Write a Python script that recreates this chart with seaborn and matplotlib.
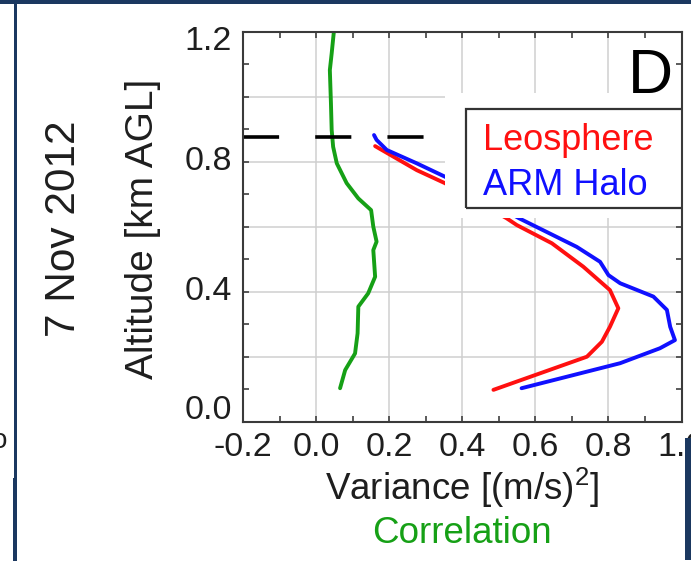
import numpy as np
import pandas as pd
import seaborn as sns
import matplotlib
matplotlib.use("Agg")
import matplotlib.pyplot as plt
from matplotlib.patches import Rectangle
from matplotlib.ticker import FixedLocator, FixedFormatter, MultipleLocator
from matplotlib.transforms import ScaledTranslation

# ---------------- data ----------------
corr_alt = [1.20, 1.133, 1.082, 0.98, 0.898, 0.846, 0.795, 0.734, 0.687, 0.651,
            0.600, 0.554, 0.528, 0.446, 0.395, 0.354, 0.272, 0.210, 0.159, 0.103]
corr_val = [0.048, 0.042, 0.037, 0.040, 0.042, 0.046, 0.056, 0.083, 0.115, 0.150,
            0.156, 0.165, 0.156, 0.161, 0.142, 0.115, 0.113, 0.106, 0.079, 0.065]

leo_alt = [0.848, 0.774, 0.734, 0.626, 0.605, 0.549, 0.477, 0.405, 0.349, 0.292,
           0.246, 0.200, 0.098]
leo_var = [0.161, 0.275, 0.352, 0.521, 0.549, 0.645, 0.731, 0.804, 0.827, 0.804,
           0.782, 0.741, 0.485]

halo_alt = [0.882, 0.867, 0.836, 0.795, 0.754, 0.626, 0.538, 0.492, 0.451, 0.426,
            0.385, 0.344, 0.292, 0.251, 0.226, 0.180, 0.103]
halo_var = [0.158, 0.165, 0.193, 0.275, 0.352, 0.555, 0.713, 0.777, 0.800, 0.832,
            0.923, 0.960, 0.969, 0.982, 0.941, 0.832, 0.562]

boundary_alt = 0.877
series_names = ["Leosphere", "ARM Halo", "Correlation"]
x_ticks = [-0.2, 0.0, 0.2, 0.4, 0.6, 0.8, 1.0]
x_ticklabels = ["-0.2", "0.0", "0.2", "0.4", "0.6", "0.8", "1.0"]
y_ticks = [0.0, 0.2, 0.4, 0.6, 0.8, 1.0, 1.2]
y_ticklabels = ["0.0", "", "0.4", "", "0.8", "", "1.2"]
date_label = "7 Nov 2012"
panel_label = "D"

# ---------------- style ----------------
sns.set_theme(style="ticks")
plt.rcParams["font.family"] = ["Liberation Sans", "DejaVu Sans"]
plt.rcParams["mathtext.fontset"] = "custom"
plt.rcParams["mathtext.rm"] = "Liberation Sans"
plt.rcParams["mathtext.it"] = "Liberation Sans:italic"
plt.rcParams["mathtext.bf"] = "Liberation Sans:bold"

RED, BLUE, GREEN = "#ff1010", "#1010ff", "#16a016"
NAVY = "#1b3860"
TXT = "#1e1e1e"

W, H = 691, 561
fig = plt.figure(figsize=(W / 100, H / 100), dpi=100)
fig.patch.set_facecolor("white")
ax = fig.add_axes([243.3 / W, 1 - 421.7 / H, 438.2 / W, 390 / H])

df = pd.concat([
    pd.DataFrame({"value": leo_var, "alt": leo_alt, "series": series_names[0]}),
    pd.DataFrame({"value": halo_var, "alt": halo_alt, "series": series_names[1]}),
    pd.DataFrame({"value": corr_val, "alt": corr_alt, "series": series_names[2]}),
], ignore_index=True)

sns.lineplot(data=df, x="value", y="alt", hue="series",
             palette={series_names[0]: RED, series_names[1]: BLUE, series_names[2]: GREEN},
             sort=False, estimator=None, legend=False, linewidth=2.8, ax=ax, zorder=3)

ax.axhline(boundary_alt, color="black", linewidth=2.6, linestyle=(0, (10.0, 10.0)),
           zorder=3.5)

ax.set_xlim(-0.2, 1.0)
ax.set_ylim(0.0, 1.2)

ax.xaxis.set_major_locator(FixedLocator(x_ticks))
ax.xaxis.set_major_formatter(FixedFormatter(x_ticklabels))
ax.xaxis.set_minor_locator(MultipleLocator(0.1))
ax.yaxis.set_major_locator(FixedLocator(y_ticks))
ax.yaxis.set_major_formatter(FixedFormatter(y_ticklabels))
ax.yaxis.set_minor_locator(MultipleLocator(0.1))

ax.tick_params(which="both", direction="in", top=True, right=True,
               length=4, width=1.2, color="#404040")
ax.tick_params(axis="x", which="major", labelsize=24.5, pad=7.5, labelcolor=TXT)
ax.tick_params(axis="y", which="major", labelsize=24.5, pad=8, labelcolor=TXT)

ax.grid(True, which="major", color="#cfcfcf", linewidth=1.1)
ax.set_axisbelow(True)
for s in ax.spines.values():
    s.set_color("#3a3a3a")
    s.set_linewidth(1.5)
    s.set_zorder(6)

# shift end labels of y axis inward like the original
yt = ax.yaxis.get_major_ticks()
for t in yt:
    t.label1.set_va("center")
yt[0].label1.set_transform(yt[0].label1.get_transform() + ScaledTranslation(0, 11.5 / 100, fig.dpi_scale_trans))
yt[-1].label1.set_transform(yt[-1].label1.get_transform() + ScaledTranslation(0, -10 / 100, fig.dpi_scale_trans))

# axis labels
ax.set_xlabel(r"Variance [(m/s)$^2$]", fontsize=26.5, color=TXT, va="baseline")
ax.xaxis.set_label_coords(0.5, (421.7 - 500) / 390)
ax.text(0.5, (421.7 - 543) / 390, series_names[2], transform=ax.transAxes,
        fontsize=26.5, color=GREEN, ha="center", va="baseline")

ax.set_ylabel("Altitude [km AGL]", fontsize=28, color=TXT)
ax.yaxis.label.set_rotation_mode("anchor")
ax.yaxis.label.set_va("baseline")
ax.yaxis.set_label_coords((153 - 243.3) / 438.2, 0.494)

# white block + legend box (pasted look)
ax.add_patch(Rectangle((0.3525, 0.626), 0.75, 0.3845, facecolor="white",
                       edgecolor="none", zorder=4, clip_on=True))
ax.add_patch(Rectangle((0.410, 0.6575), 0.75, 0.3045, facecolor="none",
                       edgecolor="#333333", linewidth=1.6, zorder=5, clip_on=True))
ax.text(0.4565, 0.836, series_names[0], color=RED, fontsize=26, va="baseline",
        ha="left", zorder=6)
ax.text(0.4565, 0.699, series_names[1], color=BLUE, fontsize=26, va="baseline",
        ha="left", zorder=6)

# panel letter and date
fig.text(628 / W, 1 - 93 / H, panel_label, fontsize=45, color="black",
         ha="left", va="baseline", zorder=7)
fig.text(75 / W, 1 - 228.5 / H, date_label, fontsize=30.5, color=TXT, rotation=90,
         rotation_mode="anchor", ha="center", va="baseline")
fig.text(7 / W, 1 - 441 / H, "o", fontsize=20, color=TXT, ha="right", va="center")

# navy slide frame pieces
fig.add_artist(Rectangle((0, 1 - 4 / H), 1, 4 / H, transform=fig.transFigure,
                         facecolor=NAVY, edgecolor="none", zorder=10))
fig.add_artist(Rectangle((14 / W, 1 - 478 / H), 2.6 / W, 478 / H, transform=fig.transFigure,
                         facecolor=NAVY, edgecolor="none", zorder=10))
fig.add_artist(Rectangle((13 / W, 0), 3.6 / W, 1 - 478 / H, transform=fig.transFigure,
                         facecolor=NAVY, edgecolor="none", zorder=10))
fig.add_artist(Rectangle((685 / W, 1 / H), 6 / W, (561 - 438 - 1) / H, transform=fig.transFigure,
                         facecolor=NAVY, edgecolor="none", zorder=10))

fig.savefig("out.png", dpi=100, facecolor="white")
